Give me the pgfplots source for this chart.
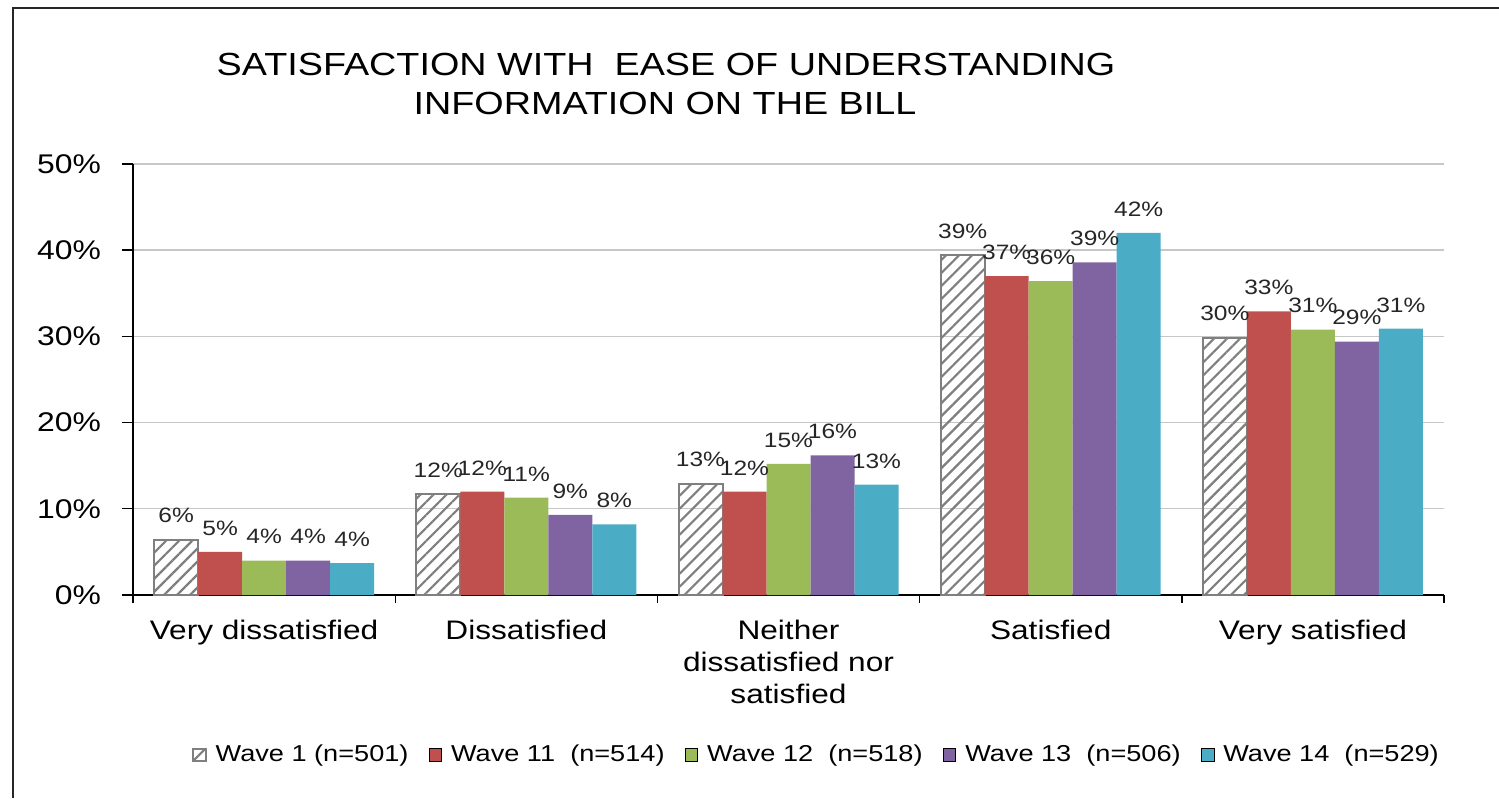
\documentclass[border=0pt]{standalone}
\usepackage{pgfplots}
\pgfplotsset{compat=1.18}
\usetikzlibrary{patterns.meta}
\usepackage{fontspec}
\setmainfont{Liberation Sans}
\newfontfamily\wide[FakeStretch=1.18]{Liberation Sans}
\definecolor{c11}{HTML}{C0504D}
\definecolor{c12}{HTML}{9BBB59}
\definecolor{c13}{HTML}{8064A2}
\definecolor{c14}{HTML}{4BACC6}
\definecolor{hgray}{HTML}{7F7F7F}
\pgfplotsset{mylegend/.style={legend image code/.code={\draw[##1] (0pt,-3.2pt) rectangle (6.4pt,3.2pt);}}}
\begin{document}
\begin{tikzpicture}
\useasboundingbox (0pt,0pt) rectangle (749.5pt,399pt);
\draw[line width=1pt, black!85] (6.25pt,0pt) -- (6.25pt,394.85pt) -- (749.5pt,394.85pt);
\node[font=\wide\fontsize{16}{18}\selectfont] at (333pt,367pt) {SATISFACTION WITH~~EASE OF UNDERSTANDING};
\node[font=\wide\fontsize{16}{18}\selectfont] at (332.5pt,347.5pt) {INFORMATION ON THE BILL};
\begin{axis}[
  at={(66.5pt,101.5pt)}, anchor=south west,
  scale only axis, width=655.5pt, height=215.5pt,
  xmin=-0.5, xmax=4.5, ymin=0, ymax=50,
  ybar=0pt, bar width=22pt,
  axis x line=bottom, axis y line=left,
  axis line style={-, black, line width=0.7pt},
  /pgf/number format/assume math mode=true,
  ytick={0,10,...,50},
  yticklabel={\pgfmathprintnumber{\tick}\%},
  yticklabel style={font=\wide\fontsize{13.5}{16}\selectfont, xshift=-7pt},
  xtick={0,...,4},
  xticklabels={Very dissatisfied, Dissatisfied, {Neither\\dissatisfied nor\\satisfied}, Satisfied, Very satisfied},
  xticklabel style={font=\wide\fontsize{13.4}{16}\selectfont, align=center, yshift=-3.5pt},
  major x tick style={draw=none},
  minor xtick={-0.5,0.5,...,4.5},
  minor tick length=4pt, major tick length=5.5pt,
  tick align=outside,
  tick style={black, line width=0.7pt},
  ymajorgrids, grid style={draw=black!22, line width=0.7pt},
  nodes near coords={\pgfmathprintnumber[fixed,precision=0]{\pgfplotspointmeta}\%},
  every node near coord/.append style={font=\wide\fontsize{10.4}{12}\selectfont, anchor=south, inner sep=0pt, yshift=8pt, text=black!85},
  legend style={at={(0.522,-0.371)}, anchor=center, draw=none, font=\wide\fontsize{11.5}{13}\selectfont,
    /tikz/every odd column/.append style={column sep=2.5pt},
    /tikz/every even column/.append style={column sep=8pt}},
  legend columns=5,
]
\addplot[mylegend, draw=hgray, line width=1pt, pattern={Lines[angle=45,distance=4.6pt,line width=1.1pt]}, pattern color=hgray] coordinates {(0,6.4) (1,11.7) (2,12.9) (3,39.4) (4,29.8)};
\addplot[mylegend, fill=c11, draw=none] coordinates {(0,5.0) (1,12.0) (2,12.0) (3,37.0) (4,32.9)};
\addplot[mylegend, fill=c12, draw=none] coordinates {(0,4.0) (1,11.3) (2,15.2) (3,36.4) (4,30.8)};
\addplot[mylegend, fill=c13, draw=none] coordinates {(0,4.0) (1,9.3) (2,16.2) (3,38.6) (4,29.4)};
\addplot[mylegend, fill=c14, draw=none] coordinates {(0,3.7) (1,8.2) (2,12.8) (3,42.0) (4,30.9)};
\legend{Wave 1 (n=501), Wave 11~~(n=514), Wave 12~~(n=518), Wave 13~~(n=506), Wave 14~~(n=529)}
\end{axis}
\end{tikzpicture}
\end{document}
